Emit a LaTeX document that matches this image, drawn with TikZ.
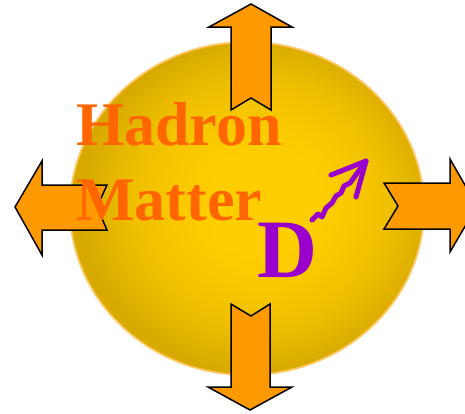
\documentclass[tikz,border=0pt]{standalone}
\usepackage{fontspec}
\setmainfont{Liberation Serif}
\definecolor{arrowfill}{RGB}{255,153,0}
\definecolor{hadron}{RGB}{255,102,0}
\definecolor{dpurple}{RGB}{153,0,204}
\definecolor{ballin}{RGB}{255,206,0}
\definecolor{ballmid}{RGB}{240,192,0}
\definecolor{ballout}{RGB}{216,170,0}
\definecolor{ballrim}{RGB}{255,200,100}
\pgfdeclareradialshading{ballshade}{\pgfpoint{3bp}{1bp}}{color(0bp)=(ballin); color(8bp)=(ballin); color(18bp)=(ballmid); color(25bp)=(ballout); color(50bp)=(ballout)}
\tikzset{
  bigarrow/.style={fill=arrowfill, draw=black, line width=1.5pt, line join=miter},
  bigtext/.style={text=hadron, font=\fontsize{62}{62}\selectfont\bfseries, inner sep=0pt, anchor=base west},
  dtext/.style={text=dpurple, font=\fontsize{83}{83}\selectfont\bfseries, inner sep=0pt, anchor=base west},
  wave/.style={draw=dpurple, line width=5pt, line cap=round, line join=round}
}
\begin{document}
\begin{tikzpicture}[x=1pt,y=-1pt]
\useasboundingbox (0,0) rectangle (465,413);
\clip (0,0) rectangle (465,413);
% ball
\shade[shading=ballshade] (247,208.5) ellipse [x radius=177pt, y radius=166.5pt];
\draw[ballrim, line width=1.8pt] (247,208.5) ellipse [x radius=177pt, y radius=166.5pt];
% arrows
\draw[bigarrow] (251,4) -- (292,27) -- (271,27) -- (271,110) -- (251,98) -- (231,110) -- (231,27) -- (209,27) -- cycle;
\draw[bigarrow] (231,304) -- (251,316) -- (270,304) -- (270,387) -- (292,387) -- (250,410) -- (208,387) -- (231,387) -- cycle;
\draw[bigarrow] (15,207) -- (42,161) -- (42,185) -- (107,185) -- (97,207) -- (107,230) -- (42,230) -- (42,255) -- cycle;
\draw[bigarrow] (384,183) -- (450,183) -- (450,159) -- (477,206) -- (450,252) -- (450,229) -- (384,229) -- (398,206) -- cycle;
% texts
\node[bigtext] (hadron) at (76,145) {Hadron};
\node[bigtext] (matter) at (76,220) {Matter};
\node[dtext] (d) at (257,277) {D};
% wavy arrow
\coordinate (wstart) at (312,220);
\coordinate (wtip) at (366,161);
\draw[wave] (wstart) -- (318,214) -- (322,217) -- (326,208) -- (332,203) -- (336,196) -- (341,193) -- (344,186) -- (350,183) -- (wtip);
\draw[wave] (331,175) -- (wtip) -- (356,197);
\end{tikzpicture}
\end{document}
